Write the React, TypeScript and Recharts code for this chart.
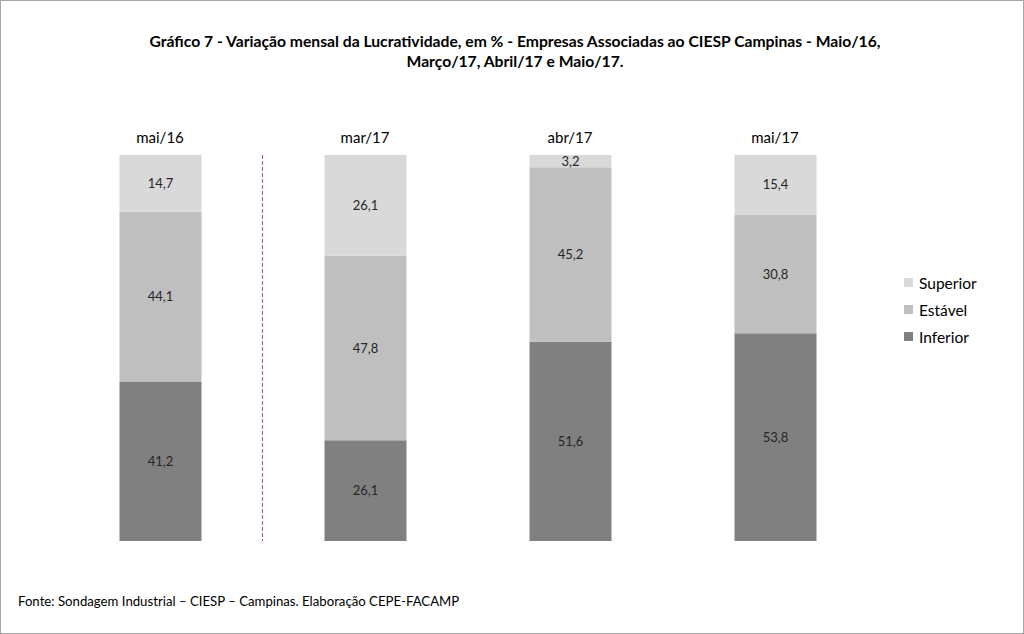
import React from "react";
import { BarChart, Bar, XAxis, YAxis, LabelList, Legend, ReferenceLine } from "recharts";

const categories = ["mai/16", "mar/17", "abr/17", "mai/17"];
const inferior = [41.2, 26.1, 51.6, 53.8];
const estavel = [44.1, 47.8, 45.2, 30.8];
const superior = [14.7, 26.1, 3.2, 15.4];

const seriesNames = { inferior: "Inferior", estavel: "Estável", superior: "Superior" };
const colors = { inferior: "#808080", estavel: "#bfbfbf", superior: "#d9d9d9" };

const data = categories.map((c, i) => ({
  cat: c,
  inferior: inferior[i],
  estavel: estavel[i],
  superior: superior[i],
}));

const FONT = "Lato, 'Open Sans', sans-serif";

const fmt = (v: any) => String(v).replace(".", ",");

const LegendContent = () => {
  const items = [
    ["Superior", colors.superior],
    ["Estável", colors.estavel],
    ["Inferior", colors.inferior],
  ];
  return (
    <div style={{ fontFamily: FONT, fontSize: 15.5, color: "#000" }}>
      {items.map(([n, c]) => (
        <div key={n} style={{ display: "flex", alignItems: "center", height: 27 }}>
          <span style={{ width: 9, height: 9, background: c, marginRight: 6, display: "inline-block" }} />
          <span>{n}</span>
        </div>
      ))}
    </div>
  );
};

export default function App() {
  return (
    <div
      style={{
        position: "absolute",
        left: 0,
        top: 0,
        width: 1024,
        height: 634,
        border: "1px solid #a6a6a6",
        boxSizing: "border-box",
        background: "#fff",
        fontFamily: FONT,
      }}
    >
      <div
        style={{
          position: "absolute",
          left: 2,
          top: 30,
          width: 1024,
          textAlign: "center",
          fontWeight: "bold",
          fontSize: 15.7,
          lineHeight: "20px",
          color: "#000",
        }}
      >
        Gráfico 7 - Variação mensal da Lucratividade, em % - Empresas Associadas ao CIESP Campinas - Maio/16,
        <br />
        Março/17, Abril/17 e Maio/17.
      </div>
      <div style={{ position: "absolute", left: 0, top: 0 }}>
        <BarChart
          width={1022}
          height={632}
          data={data}
          margin={{ top: 124, right: 145.5, bottom: 92, left: 56.5 }}
          barSize={82}
        >
          <XAxis
            dataKey="cat"
            orientation="top"
            axisLine={false}
            tickLine={false}
            tick={{ fill: "#000", fontSize: 15, fontFamily: FONT }}
            tickMargin={6}
            height={30}
          />
          <YAxis hide domain={[0, 100]} />
          <ReferenceLine
            x="mai/16"
            position="end"
            stroke="#c0504d"
            strokeDasharray="4 2"
            strokeWidth={1}
          />
          <Bar dataKey="inferior" name={seriesNames.inferior} stackId="a" fill={colors.inferior} isAnimationActive={false}>
            <LabelList dataKey="inferior" position="center" formatter={fmt} fill="#262626" fontSize={13} fontFamily={FONT} />
          </Bar>
          <Bar dataKey="estavel" name={seriesNames.estavel} stackId="a" fill={colors.estavel} isAnimationActive={false}>
            <LabelList dataKey="estavel" position="center" formatter={fmt} fill="#262626" fontSize={13} fontFamily={FONT} />
          </Bar>
          <Bar dataKey="superior" name={seriesNames.superior} stackId="a" fill={colors.superior} isAnimationActive={false}>
            <LabelList dataKey="superior" position="center" formatter={fmt} fill="#262626" fontSize={13} fontFamily={FONT} />
          </Bar>
          <Legend
            layout="vertical"
            align="center"
            verticalAlign="middle"
            content={<LegendContent />}
            wrapperStyle={{ position: "absolute", left: 903, top: 268, width: 110 }}
          />
        </BarChart>
      </div>
      <div
        style={{
          position: "absolute",
          left: 17,
          top: 592,
          fontSize: 13.2,
          color: "#000",
        }}
      >
        Fonte: Sondagem Industrial – CIESP – Campinas. Elaboração CEPE-FACAMP
      </div>
    </div>
  );
}
